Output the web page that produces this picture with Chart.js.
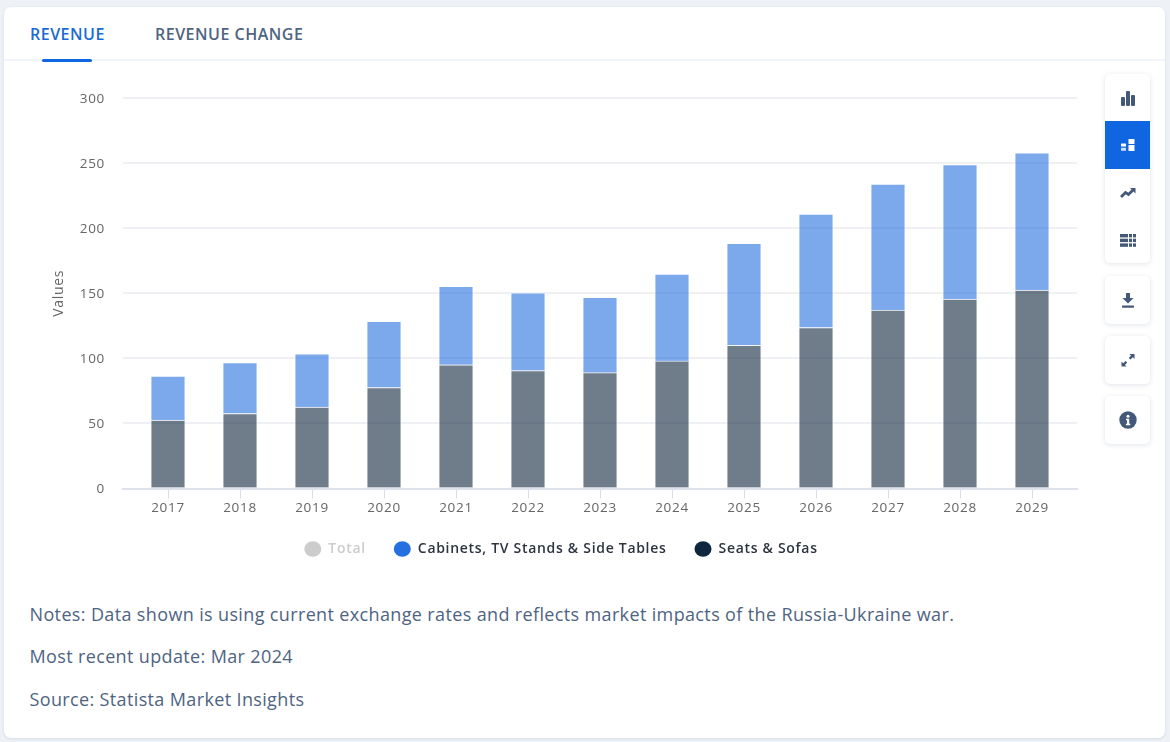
<!DOCTYPE html>
<html><head><meta charset="utf-8">
<script src="https://cdn.jsdelivr.net/npm/chart.js@4"></script>
<style>
html,body{margin:0;padding:0;background:#eef1f6;width:1170px;height:742px;overflow:hidden;font-family:"Open Sans",sans-serif}
#card{position:absolute;left:4px;top:7px;width:1161px;height:731px;background:#fff;border-radius:7px;box-shadow:0 1px 3px rgba(90,110,140,.15)}
.abs{position:absolute}
.tab{position:absolute;top:22.5px;font-size:16px;font-weight:600;line-height:22px;white-space:nowrap;letter-spacing:.5px}
#rule{position:absolute;left:4px;top:59px;width:1161px;height:2px;background:#f1f5fa}
#under{position:absolute;left:42px;top:58.5px;width:50px;height:3px;border-radius:2px;background:#0f66e0}
.note{position:absolute;left:29.5px;font-size:18px;line-height:24px;color:#4e6482;white-space:nowrap;letter-spacing:.36px}
.btn{position:absolute;left:1105px;width:45px;background:#fff;border-radius:5px;box-shadow:0 1px 5px rgba(80,100,130,.18)}
.ic{position:absolute;left:1105px;width:45px;height:48px;display:flex;align-items:center;justify-content:center}
#c{position:absolute;left:0;top:0}
</style></head><body>
<div id="card"></div>
<div class="tab" style="left:30px;color:#1a6ad6">REVENUE</div>
<div class="tab" style="left:155px;color:#4e6482">REVENUE CHANGE</div>
<div id="rule"></div><div id="under"></div>
<canvas id="c" width="1117" height="574" style="width:1117px;height:574px"></canvas>
<div class="btn" style="top:74px;height:189px"></div>
<div class="abs" style="left:1105px;top:121px;width:45px;height:48px;background:#0f66e0"></div>
<div class="btn" style="top:276px;height:48px"></div>
<div class="btn" style="top:336px;height:48px"></div>
<div class="btn" style="top:396px;height:48px"></div>
<div class="ic" style="top:74px"><svg width="16" height="16" viewBox="0 0 16 16" fill="#44597a"><rect x="1" y="7" width="4" height="9" rx="1"/><rect x="6" y="1" width="4" height="15" rx="1"/><rect x="11" y="5" width="4" height="11" rx="1"/></svg></div>
<div class="ic" style="top:121px"><svg width="14" height="14" viewBox="0 0 14 14" fill="#fff"><rect x="0" y="5.5" width="5" height="3" rx=".6"/><rect x="0" y="9.8" width="5" height="3" rx=".6" opacity=".8"/><rect x="7.5" y="1" width="6" height="5" rx=".6"/><rect x="7.5" y="7" width="6" height="6" rx=".6"/></svg></div>
<div class="ic" style="top:169px"><svg width="16" height="12" viewBox="0 0 16 12" fill="none" stroke="#44597a" stroke-width="2.8"><path d="M1 10 L5.5 5.5 L8.5 7.5 L13 3"/><path d="M10 1 H15.5 V6.5" fill="#44597a" stroke="none"/></svg></div>
<div class="ic" style="top:216px"><svg width="16" height="13" viewBox="0 0 16 13" fill="#44597a"><rect x="0" y="0" width="8" height="3.4"/><rect x="0" y="4.7" width="8" height="3.4"/><rect x="0" y="9.4" width="8" height="3.4"/><rect x="9" y="0" width="3" height="3.4"/><rect x="9" y="4.7" width="3" height="3.4"/><rect x="9" y="9.4" width="3" height="3.4"/><rect x="13" y="0" width="3" height="3.4"/><rect x="13" y="4.7" width="3" height="3.4"/><rect x="13" y="9.4" width="3" height="3.4"/></svg></div>
<div class="ic" style="top:276px"><svg width="14" height="15" viewBox="0 0 14 15" fill="#44597a"><path d="M5 0h4v5h3.5L7 10.5 1.5 5H5z"/><rect x="1" y="12.5" width="12" height="2.2" rx=".6"/></svg></div>
<div class="ic" style="top:336px"><svg width="14" height="14" viewBox="0 0 14 14" fill="#44597a"><path d="M8.5 1H13.5V6L11.8 4.3 9.5 6.6 7.8 4.9 10 2.6z"/><path d="M5.5 13.5H.5V8.5L2.2 10.2 4.5 7.9 6.2 9.6 4 11.9z"/></svg></div>
<div class="ic" style="top:396px"><svg width="18" height="18" viewBox="0 0 18 18"><circle cx="9" cy="9" r="8.7" fill="#44597a"/><circle cx="9" cy="5.2" r="1.5" fill="#fff"/><path d="M7 7.8h3.2v5h1.1v1.4H6.9v-1.4H8v-3.6H7z" fill="#fff"/></svg></div>
<div class="note" style="top:602px">Notes: Data shown is using current exchange rates and reflects market impacts of the Russia-Ukraine war.</div>
<div class="note" style="top:644px">Most recent update: Mar 2024</div>
<div class="note" style="top:687px">Source: Statista Market Insights</div>
<script>
const years = [2017,2018,2019,2020,2021,2022,2023,2024,2025,2026,2027,2028,2029];
const seatsSofas = [52.6,57.6,62.6,77.6,95,90.6,89,98,110,123.7,137,145.6,152.5];
const cabinets = [33.8,39.2,40.8,50.8,60.4,59.8,57.8,66.8,78.4,87.2,96.9,103.2,105.3];
const total = [86.4,96.8,103.4,128.4,155.4,150.4,146.8,164.8,188.4,210.9,233.9,248.8,257.8];
const yTicks = [0,50,100,150,200,250,300];
const pts = a => a.map((v,i)=>({x:years[i],y:v}));
const legendColors = ['#cccccc','#2470e0','#0f273e'];
const legendText = ['#cccccc','#2d3440','#2d3440'];
const legendNames = ['Total','Cabinets, TV Stands & Side Tables','Seats & Sofas'];
const spacing = {id:'spacing',
  beforeUpdate(c){c.ctx.letterSpacing='0.7px';},
  beforeDraw(c){c.ctx.letterSpacing='0.7px';}
};
new Chart(document.getElementById('c'),{
  type:'bar',
  plugins:[spacing],
  data:{datasets:[
    {label:legendNames[2],data:pts(seatsSofas),backgroundColor:'rgba(15,39,62,.6)',borderColor:'rgba(255,255,255,.55)',borderWidth:1,barThickness:34.5,stack:'a'},
    {label:legendNames[1],data:pts(cabinets),backgroundColor:'rgba(36,112,224,.6)',borderColor:'rgba(255,255,255,.55)',borderWidth:1,barThickness:34.5,stack:'a'},
    {label:legendNames[0],data:pts(total),hidden:true,backgroundColor:'#ccc',barThickness:34.5,stack:'b'}
  ]},
  options:{
    responsive:false,animation:false,
    layout:{padding:{left:45,right:40,top:98,bottom:8}},
    plugins:{
      tooltip:{enabled:false},
      legend:{position:'bottom',
        labels:{
          usePointStyle:true,pointStyleWidth:17,boxHeight:11,padding:28,
          font:{family:'"Open Sans"',size:14,weight:'600'},
          generateLabels:()=>legendNames.map((n,i)=>({text:n,fillStyle:legendColors[i],strokeStyle:legendColors[i],lineWidth:0,pointStyle:'circle',fontColor:legendText[i],hidden:false,datasetIndex:2-i}))
        }
      }
    },
    scales:{
      x:{type:'linear',stacked:true,offset:false,min:2016.375,max:2029.625,
        afterBuildTicks:s=>{s.ticks=years.map(v=>({value:v}));},
        afterFit:s=>{s.height=25.5;},
        grid:{offset:false,drawOnChartArea:false,tickColor:'#d6deeb',tickLength:10,tickWidth:1},
        border:{color:'#dde2ec',width:2},
        ticks:{autoSkip:false,maxRotation:0,padding:2,color:'#666',font:{family:'"Open Sans"',size:13.5},callback:v=>String(v)}
      },
      y:{stacked:true,min:0,max:300,
        afterBuildTicks:s=>{s.ticks=yTicks.map(v=>({value:v}));},
        afterFit:s=>{s.width=78;},
        grid:{color:'#eef0f3',lineWidth:2,drawTicks:false},
        border:{display:false},
        ticks:{padding:18,labelOffset:1,color:'#666',font:{family:'"Open Sans"',size:13.5}},
        title:{display:true,text:'Values',color:'#666',font:{family:'"Open Sans"',size:14},padding:{top:6,bottom:0}}
      }
    }
  }
});
</script>
</body></html>
